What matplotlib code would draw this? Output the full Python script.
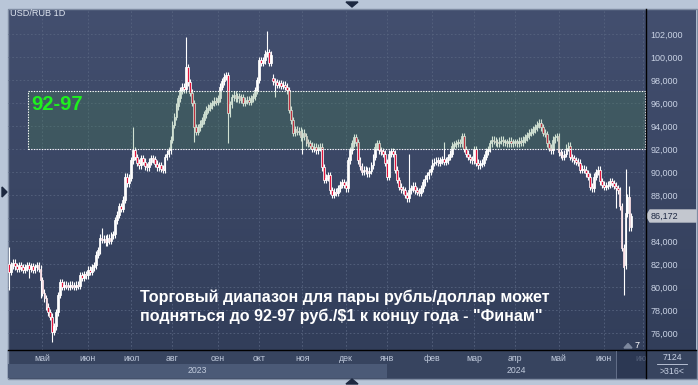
import numpy as np
import pandas as pd
import matplotlib
matplotlib.use('Agg')
import matplotlib.pyplot as plt
from matplotlib.patches import Rectangle, Polygon
from matplotlib.colors import to_rgb

plt.rcParams['font.family'] = ['Liberation Sans', 'DejaVu Sans']

W, H = 698, 385

# USD/RUB daily closes, from 6 Apr 2023
closes = [
    81.3, 81.9, 82.1, 81.8, 81.6, 81.9, 81.7, 81.5, 81.7, 81.9,
    81.6, 81.8, 81.5, 81.7, 81.9, 81.6, 80.6, 79.5, 79.0, 78.3,
    77.8, 77.4, 76.1, 76.6, 77.8, 79.3, 80.4, 80.0, 80.2, 80.1,
    80.0, 80.2, 80.1, 80.0, 80.2, 80.1, 81.0, 80.8, 81.1, 81.0,
    81.5, 81.3, 81.7, 81.9, 82.8, 83.2, 84.3, 84.1, 84.2, 83.9,
    84.3, 84.0, 84.5, 84.6, 85.8, 86.3, 87.0, 86.8, 87.6, 89.6,
    89.0, 89.5, 91.0, 91.9, 91.3, 90.8, 90.6, 91.2, 90.9, 90.5,
    90.4, 90.9, 91.2, 91.1, 90.7, 90.4, 90.6, 90.3, 90.2, 91.3,
    91.6, 91.9, 92.8, 94.1, 94.8, 95.7, 96.4, 97.1, 97.4, 97.2,
    99.1, 97.8, 96.9, 96.0, 93.9, 93.5, 93.9, 94.2, 94.5, 95.0,
    95.4, 95.6, 95.8, 96.0, 96.2, 96.1, 96.4, 97.4, 97.9, 98.3,
    98.4, 95.1, 95.9, 96.5, 96.7, 96.4, 96.6, 96.3, 96.5, 96.0,
    96.2, 96.3, 96.1, 96.4, 96.6, 97.1, 98.0, 99.7, 99.5, 99.7,
    100.3, 100.4, 99.5, 100.2, 97.9, 97.8, 97.6, 97.7, 97.5, 97.6,
    97.4, 97.1, 95.4, 94.5, 93.4, 93.7, 93.5, 93.6, 93.0, 93.4,
    93.1, 92.6, 92.5, 92.3, 92.0, 92.2, 91.9, 92.1, 92.2, 90.4,
    89.3, 89.5, 89.7, 88.4, 88.0, 88.3, 88.2, 88.6, 88.9, 89.1,
    88.9, 88.6, 91.0, 91.9, 92.5, 93.0, 92.6, 91.0, 90.5, 90.0,
    90.2, 90.1, 89.9, 90.1, 90.6, 91.3, 92.2, 92.5, 91.9, 91.8,
    91.6, 90.8, 89.6, 91.6, 91.8, 91.6, 90.2, 89.3, 88.7, 88.5,
    88.4, 88.0, 87.7, 88.4, 88.6, 88.8, 88.4, 88.3, 88.2, 88.6,
    89.1, 89.4, 89.7, 90.0, 90.3, 90.8, 90.9, 91.0, 90.8, 91.0,
    91.1, 90.9, 91.0, 91.3, 91.6, 92.3, 92.4, 92.5, 92.6, 92.5,
    93.1, 92.0, 91.6, 91.3, 91.1, 91.0, 92.0, 90.8, 90.6, 90.7,
    90.8, 91.3, 91.8, 92.0, 92.5, 92.8, 92.7, 92.6, 92.5, 92.7,
    92.8, 92.6, 92.6, 92.5, 92.7, 92.5, 92.6, 92.6, 92.5, 92.7,
    92.6, 92.8, 93.0, 93.2, 93.4, 93.5, 93.7, 93.9, 94.1, 94.3,
    93.9, 93.4, 93.3, 92.5, 92.1, 91.9, 92.8, 93.0, 93.1, 91.7,
    91.5, 91.3, 91.6, 92.1, 92.3, 91.3, 91.2, 91.0, 90.9, 90.8,
    90.2, 90.3, 90.2, 89.9, 89.6, 88.7, 88.6, 89.6, 90.0, 90.2,
    89.2, 88.9, 88.7, 88.8, 88.9, 89.2, 89.0, 88.8, 88.6, 88.4,
    87.0, 83.4, 81.7, 86.4, 87.8, 85.2, 86.172,
]
start_date = '2023-04-06'
# opens differing from previous close (gaps)
gap_opens = {0: 82.0, 134: 98.2, 313: 81.9}
# long shadows visible on the chart
long_highs = {0: 83.5, 47: 85.1, 63: 93.9, 90: 101.7, 131: 102.3, 203: 91.6,
              221: 92.6, 313: 90.3, 315: 88.8}
long_lows = {0: 79.7, 10: 80.8, 16: 79.0, 22: 75.2, 94: 92.6, 111: 92.5,
             135: 96.5, 149: 91.6, 308: 86.9, 312: 79.3}

zone = (92, 97)
zone_label = '92-97'
price_ticks = list(range(76, 103, 2))
months_ru = ['янв', 'фев', 'мар', 'апр', 'май', 'июн', 'июл', 'авг', 'сен', 'окт', 'ноя', 'дек']
caption = ['Торговый диапазон для пары рубль/доллар может',
           'подняться до 92-97 руб./$1 к концу года - "Финам"']
title = 'USD/RUB 1D'

n = len(closes)
dates = pd.bdate_range(start_date, periods=n + 10)
opens = [gap_opens.get(i, closes[i - 1] if i else closes[0]) for i in range(n)]
wick = 0.3
highs = [long_highs.get(i, max(o, c) + wick) for i, (o, c) in enumerate(zip(opens, closes))]
lows = [long_lows.get(i, min(o, c) - wick) for i, (o, c) in enumerate(zip(opens, closes))]
x = np.arange(n)


def frac(l, t, r, b):
    return [l / W, 1 - b / H, (r - l) / W, (b - t) / H]


fig = plt.figure(figsize=(W / 100, H / 100), dpi=100)
fig.patch.set_facecolor('#b9c6d8')

# background layer in pixel coords
bg = fig.add_axes([0, 0, 1, 1], zorder=0)
bg.set_xlim(0, W)
bg.set_ylim(H, 0)
bg.axis('off')
top_c = np.array(to_rgb('#434f6f'))
bot_c = np.array(to_rgb('#323e5a'))
grad = np.linspace(0, 1, 200)[:, None, None] * (bot_c - top_c) + top_c
bg.imshow(grad, extent=(8, 696, 350, 9), aspect='auto', interpolation='bilinear')
bg.add_patch(Rectangle((8, 350), 688, 28, color='#37445f'))
bg.add_patch(Rectangle((7.5, 8.5), 689, 370, fill=False, ec='#7f8ca2', lw=1))

# main price axes
xmax = 323.4
ax = fig.add_axes(frac(8, 9, 646, 350), zorder=2)
ax.set_facecolor('none')
ax.set_xlim(-0.5, xmax)
ax.set_ylim(74.52, 104.17)
for s in ax.spines.values():
    s.set_visible(False)

month_idx, month_lab = [], []
for i in range(1, len(dates)):
    if dates[i].month != dates[i - 1].month:
        month_idx.append(i)
        month_lab.append(months_ru[dates[i].month - 1])
ax.set_xticks(month_idx)
ax.set_xticklabels([])
ax.tick_params(axis='x', length=0)
ax.yaxis.tick_right()
ax.set_yticks(price_ticks)
# the price tag hides the tick label next to the last close
ax.set_yticklabels(['' if abs(v - closes[-1]) < 1 else f'{v:.3f}'.replace('.', ',')
                    for v in price_ticks])
ax.tick_params(axis='y', length=0, pad=3, labelsize=6.5, labelcolor='#c9d2e4')
ax.grid(True, color='#56637f', lw=0.6, ls=(0, (2, 2.5)))
ax.set_axisbelow(True)

# candles
up = [c >= o for o, c in zip(opens, closes)]
cols = ['white' if u else '#e3153c' for u in up]
ax.vlines(x, lows, highs, color='white', lw=0.8, zorder=2)
bodies = [max(abs(c - o), 0.08) for o, c in zip(opens, closes)]
ax.bar(x, bodies, bottom=[min(o, c) for o, c in zip(opens, closes)], width=0.9,
       color=cols, edgecolor='white', linewidth=0.55, zorder=2.5)

# forecast zone
z0 = 9.6
ax.add_patch(Rectangle((z0, zone[0]), xmax - 0.5 - z0, zone[1] - zone[0],
                       facecolor=(0.27, 0.53, 0.31, 0.25), edgecolor='none', zorder=3))
ax.add_patch(Rectangle((z0, zone[0]), xmax - 0.5 - z0, zone[1] - zone[0], fill=False,
                       edgecolor='white', lw=0.8, ls=(0, (1.2, 1.2)), zorder=3.2))

# date axis
axd = fig.add_axes(frac(8, 350, 646, 378), zorder=1)
axd.set_facecolor('none')
axd.set_xlim(-0.5, xmax)
axd.set_ylim(28, 0)
axd.axis('off')
jan = [i for i, l in zip(month_idx, month_lab) if l == 'янв'][0]
axd.add_patch(Rectangle((-0.5, 14), jan + 0.5, 14, color='#4b5a77', lw=0))
axd.add_patch(Rectangle((308.6, 0), xmax - 308.6, 28, color='#2c3853', lw=0))
for i, l in zip(month_idx, month_lab):
    if i < xmax:
        axd.text(i, 8.5, l, ha='center', va='center', fontsize=6.3,
                 color='#c0cadc' if i < n else '#55617a', clip_on=True)
axd.text((jan - 0.5) / 2, 20.5, '2023', ha='center', va='center', fontsize=6.3, color='#c0cadc')
axd.text((jan + xmax) / 2, 20.5, '2024', ha='center', va='center', fontsize=6.3, color='#c0cadc')

# overlay: labels, separators, markers
ov = fig.add_axes([0, 0, 1, 1], zorder=5)
ov.set_facecolor('none')
ov.set_xlim(0, W)
ov.set_ylim(H, 0)
ov.axis('off')
ov.plot([646, 646], [9, 378], color='black', lw=1)
ov.plot([8, 696], [350, 350], color='black', lw=1)
ov.plot([616, 616], [351, 378], color='#6a7690', lw=0.6)
ov.text(10, 13, title, fontsize=6.6, color='#dde3ee', va='center')
ov.text(31, 104, zone_label, fontsize=14.5, fontweight='bold', color='#1ef01e', va='center')
ov.text(140, 297, caption[0], fontsize=11.6, fontweight='bold', color='white', va='center')
ov.text(140, 316, caption[1], fontsize=11.6, fontweight='bold', color='white', va='center')

# current price tag
yp = H - ax.transData.transform((0, closes[-1]))[1]
ov.add_patch(Polygon([(646.5, yp), (650, yp - 6), (696, yp - 6), (696, yp + 6), (650, yp + 6)],
                     closed=True, color='#c3c7cf'))
ov.text(650.5, yp, f'{closes[-1]:.3f}'.replace('.', ','), fontsize=6.5, color='#1d2842', va='center')

# bar counter panel
ov.text(672, 357, '7124', fontsize=6.3, color='#c9d2e4', ha='center', va='center')
ov.plot([657, 687], [364, 364], color='#c9d2e4', lw=0.6)
ov.text(672, 371, '>316<', fontsize=6.3, color='#c9d2e4', ha='center', va='center')
ov.text(637.5, 345, '7', fontsize=6.5, color='white', ha='center', va='center')
ov.add_patch(Polygon([(624, 348), (632, 348), (628, 343.5)], color='#7d889e'))

# scroll markers
ov.add_patch(Polygon([(346, 2), (358, 2), (352, 7)], color='#1c2840'))
ov.add_patch(Polygon([(2, 187), (2, 197), (7, 192)], color='#1c2840'))
ov.add_patch(Polygon([(346, 384), (358, 384), (352, 379)], color='#1c2840'))

fig.savefig('out.png', dpi=100, facecolor=fig.get_facecolor())
